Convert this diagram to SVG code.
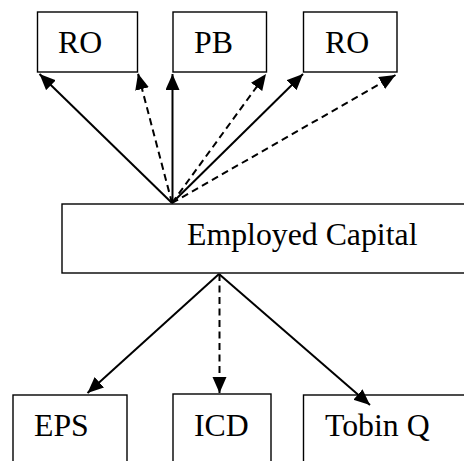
<svg xmlns="http://www.w3.org/2000/svg" width="464" height="461" viewBox="0 0 464 461">
<style>
.box{fill:#fff;stroke:#000;stroke-width:1.4}
.t{font-family:"Liberation Serif","Times New Roman",serif;font-size:31.8px;fill:#000}
.c{stroke:#000;stroke-width:2;fill:none;marker-end:url(#ah)}
.d{stroke-dasharray:7 4.5}
</style>
<defs>
<marker id="ah" markerUnits="userSpaceOnUse" markerWidth="17" markerHeight="15" refX="16" refY="7" orient="auto">
<path d="M0,0 L16,7 L0,14 z" fill="#000"/>
</marker>
</defs>
<rect width="464" height="461" fill="#fff"/>
<g id="ro1"><rect class="box" x="37.5" y="12" width="100" height="60"/><text class="t" x="58" y="53">RO</text></g>
<g id="pb"><rect class="box" x="173" y="12" width="93.5" height="60"/><text class="t" x="194" y="53">PB</text></g>
<g id="ro2"><rect class="box" x="303.5" y="12" width="93.5" height="60"/><text class="t" x="325" y="53">RO</text></g>
<g id="ec"><rect class="box" x="62" y="204" width="410" height="69"/><text class="t" x="187" y="245">Employed Capital</text></g>
<g id="eps"><rect class="box" x="13" y="395" width="114" height="80"/><text class="t" x="34" y="436">EPS</text></g>
<g id="icd"><rect class="box" x="173" y="394" width="98" height="80"/><text class="t" x="194" y="436">ICD</text></g>
<g id="tobin"><rect class="box" x="303.5" y="395" width="180" height="80"/><text class="t" x="325" y="436">Tobin Q</text></g>
<g id="connectors">
<line class="c" x1="172" y1="203" x2="39.5" y2="74"/>
<line class="c d" x1="172" y1="203" x2="138" y2="73.5"/>
<line class="c" x1="172.5" y1="203" x2="172.5" y2="74"/>
<line class="c d" x1="172" y1="203" x2="266" y2="74"/>
<line class="c" x1="172" y1="203" x2="303" y2="74"/>
<line class="c d" x1="172" y1="203" x2="395.5" y2="75"/>
<line class="c" x1="219" y1="274" x2="87.5" y2="393"/>
<line class="c d" x1="219.5" y1="274" x2="219.5" y2="393"/>
<line class="c" x1="219" y1="274" x2="370" y2="405"/>
</g>
</svg>
